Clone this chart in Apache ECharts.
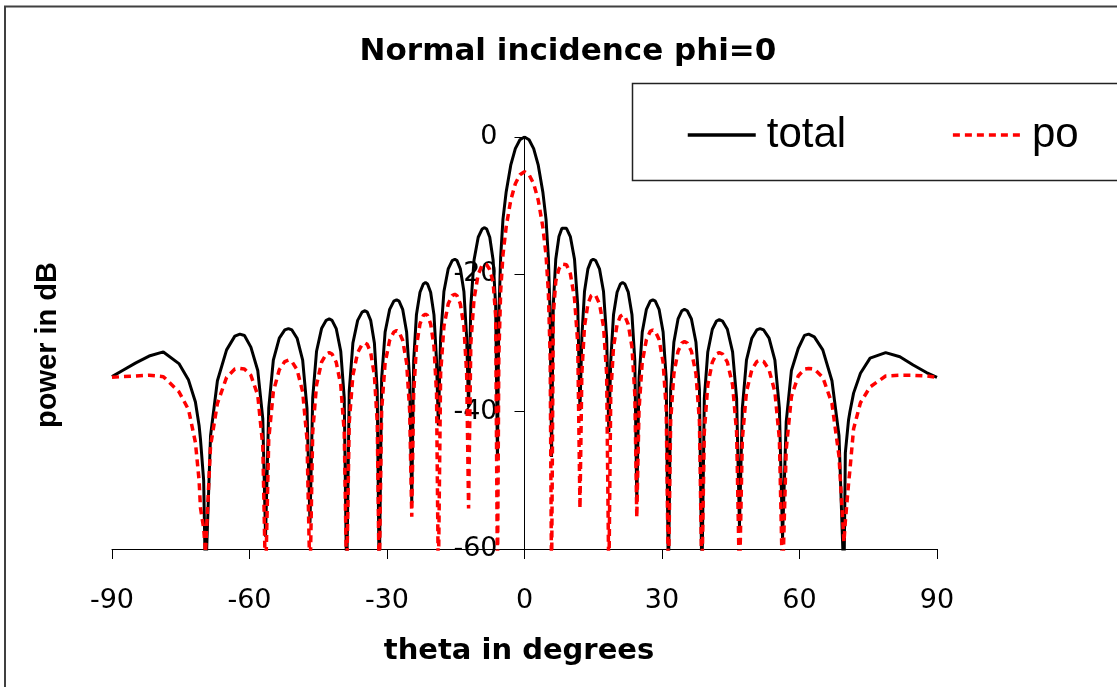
<!DOCTYPE html>
<html>
<head>
<meta charset="utf-8">
<script src="https://cdn.jsdelivr.net/npm/echarts@6/dist/echarts.min.js"></script>
<style>
html,body{margin:0;padding:0;background:#fff;}
#chart{width:1117px;height:687px;}
</style>
</head>
<body>
<div id="chart"></div>
<script>
// theta in degrees (sample positions)
const theta = [
 -90, -87.7, -84.8, -81.9, -78.8, -75.4, -73.3, -71.8, -71.0, -70.7, -70.0,
 -69.6, -68.5, -67.0, -65.0, -63.2, -62.1, -61.1, -59.7, -58.2, -57.1,
 -56.5, -55.8, -54.8, -53.5, -52.3, -51.5, -50.75, -49.62, -48.4, -47.46,
 -46.8, -46.21, -45.37, -44.28, -43.27, -42.6, -41.99, -41.08, -40.09, -39.33,
 -38.8, -38.24, -37.44, -36.4, -35.44, -34.8, -34.3, -33.56, -32.75, -32.13,
 -31.7, -31.17, -30.41, -29.42, -28.51, -27.9, -27.37, -26.58, -25.72, -25.06,
 -24.6, -24.18, -23.58, -22.8, -22.08, -21.6, -21.15, -20.48, -19.75, -19.19,
 -18.8, -18.3, -17.58, -16.64, -15.78, -15.2, -14.72, -14.0, -13.22, -12.62,
 -12.2, -11.71, -11.01, -10.1, -9.26, -8.7, -8.25, -7.58, -6.85, -6.29,
 -5.9, -5.6, -5.2, -4.7, -4, -3, -2, -1, 0, 1, 2, 3, 4, 4.7, 5.2, 5.6,
 5.9, 6.28, 6.82, 7.52, 8.17, 8.6, 9.16, 10.0, 10.91, 11.61,
 12.1, 12.51, 13.09, 13.84, 14.54, 15.0, 15.54, 16.36, 17.24, 17.92,
 18.4, 18.82, 19.42, 20.2, 20.92, 21.4, 21.9, 22.64, 23.45, 24.07,
 24.5, 24.99, 25.69, 26.6, 27.44, 28.0, 28.54, 29.36, 30.24, 30.92,
 31.4, 31.89, 32.59, 33.5, 34.34, 34.9, 35.51, 36.42, 37.41, 38.17,
 38.7, 39.23, 39.99, 40.98, 41.89, 42.5, 43.2, 44.26, 45.4, 46.28,
 46.9, 47.53, 48.43, 49.6, 50.68, 51.4, 52.18, 53.36, 54.63, 55.61,
 56.3, 57.1, 58.24, 59.72, 61.09, 62.0, 63.23, 65.08, 67.08, 68.62,
 69.7, 70.0, 70.7, 71.0, 71.8, 73.3, 75.4, 78.8, 81.9, 84.8, 87.7, 90
];
// total (dB)
const total = [
 -34.9, -34.0, -32.9, -31.9, -31.3, -33.0, -35.4, -38.6, -42.0, -44.0, -50.0,
 -65, -43.5, -35.5, -31.0, -29.0, -28.7, -28.9, -30.6, -34.0, -41.0,
 -58.2, -39.5, -32.5, -29.3, -28.1, -27.9, -28.1, -29.3, -32.5, -39.5,
 -56.2, -38.0, -31.2, -27.9, -26.7, -26.5, -26.7, -27.9, -31.2, -38.0,
 -65, -37.0, -30.0, -26.7, -25.5, -25.3, -25.5, -26.7, -30.0, -37.0,
 -65, -35.2, -28.4, -25.1, -23.9, -23.7, -23.9, -25.1, -28.4, -35.2,
 -53.3, -32.6, -25.9, -22.6, -21.4, -21.2, -21.4, -22.6, -25.9, -32.6,
 -42.0, -29.2, -22.5, -19.2, -18.0, -17.8, -18.0, -19.2, -22.5, -29.2,
 -39.3, -24.6, -17.9, -14.6, -13.4, -13.2, -13.4, -14.6, -17.9, -24.6,
 -47.0, -26.0, -17.5, -12.0, -8.0, -4.1, -1.7, -0.4, 0, -0.4, -1.7, -4.1, -8.0, -12.0, -17.5, -26.0,
 -46.6, -24.5, -17.8, -14.5, -13.3, -13.1, -13.3, -14.5, -17.8, -24.5,
 -39.8, -29.2, -22.5, -19.2, -18.0, -17.8, -18.0, -19.2, -22.5, -29.2,
 -43.0, -32.6, -25.9, -22.6, -21.4, -21.2, -21.4, -22.6, -25.9, -32.6,
 -53.1, -35.2, -28.4, -25.1, -23.9, -23.7, -23.9, -25.1, -28.4, -35.2,
 -65, -36.8, -29.9, -26.5, -25.3, -25.1, -25.3, -26.5, -29.9, -36.8,
 -65, -38.1, -31.3, -28.0, -26.8, -26.6, -26.8, -28.0, -31.3, -38.1,
 -56.7, -39.5, -32.5, -29.3, -28.1, -27.9, -28.1, -29.3, -32.5, -39.5,
 -58.4, -41.5, -34.0, -30.8, -28.9, -28.7, -29.1, -31.0, -35.5, -43.5,
 -65, -46.0, -41.2, -40.0, -37.3, -34.4, -32.2, -31.4, -32.0, -33.2, -34.3, -35.0
];
// po (dB)
const po = [
 -35.0, -34.9, -34.8, -34.7, -34.9, -37.1, -39.7, -44.5, -50.0, -54.0, -57.0,
 -60.5, -45.0, -38.8, -35.0, -33.8, -33.7, -33.8, -34.7, -37.6, -45.0,
 -65, -44.0, -37.1, -33.9, -32.7, -32.5, -32.7, -33.9, -37.1, -44.0,
 -65, -43.0, -36.1, -32.8, -31.6, -31.4, -31.6, -32.8, -36.1, -43.0,
 -65, -41.6, -34.7, -31.4, -30.2, -30.0, -30.2, -31.4, -34.7, -41.6,
 -65, -39.8, -32.9, -29.6, -28.4, -28.2, -28.4, -29.6, -32.9, -39.8,
 -55.3, -37.4, -30.5, -27.2, -26.0, -25.8, -26.0, -27.2, -30.5, -37.4,
 -65, -34.5, -27.6, -24.3, -23.1, -22.9, -23.1, -24.3, -27.6, -34.5,
 -54.1, -30.1, -23.6, -20.0, -18.7, -18.5, -18.6, -19.3, -21.1, -26.1,
 -65, -32.0, -22.5, -17.2, -13.1, -9.2, -6.8, -5.5, -5.05, -5.5, -6.8, -9.2, -13.1, -17.2, -22.5, -32.0,
 -65, -26.0, -21.0, -19.2, -18.5, -18.4, -18.6, -19.9, -23.5, -30.0,
 -54.1, -34.5, -27.6, -24.3, -23.1, -22.9, -23.1, -24.3, -27.6, -34.5,
 -65, -37.5, -30.6, -27.3, -26.1, -25.9, -26.1, -27.3, -30.6, -37.5,
 -55.4, -39.7, -32.8, -29.5, -28.3, -28.1, -28.3, -29.5, -32.8, -39.7,
 -65, -41.4, -34.5, -31.2, -30.0, -29.8, -30.0, -31.2, -34.5, -41.4,
 -65, -43.0, -36.1, -32.8, -31.6, -31.4, -31.6, -32.8, -36.1, -43.0,
 -65, -44.0, -37.1, -33.9, -32.7, -32.5, -32.7, -33.9, -37.1, -44.0,
 -65, -45.5, -37.8, -34.8, -33.8, -33.7, -33.8, -35.0, -38.8, -46.5,
 -59, -56.0, -50.5, -48.5, -42.5, -38.7, -36.4, -34.8, -34.7, -34.7, -34.8, -35.0
];
const seriesNames = ['total', 'po'];
const xTicks = [-90, -60, -30, 0, 30, 60, 90];
const yTicks = [-60, -40, -20, 0];
const titleText = 'Normal incidence phi=0';
const xName = 'theta in degrees';
const yName = 'power in dB';

const chart = echarts.init(document.getElementById('chart'), null, {renderer: 'canvas'});
const pairs = (ys) => theta.map((t, i) => [t, ys[i]]);
const gridLeft = 112, gridRight = 180;
const plotW = 1117 - gridLeft - gridRight;

chart.setOption({
  animation: false,
  backgroundColor: '#fff',
  grid: {left: gridLeft, right: gridRight, top: 137, bottom: 138, containLabel: false},
  legend: {
    left: 686, top: 114, padding: 0,
    itemWidth: 68, itemHeight: 14, itemGap: 105,
    data: seriesNames,
    itemStyle: {opacity: 0},
    lineStyle: {width: 3.5},
    textStyle: {fontFamily: 'Liberation Sans, Arial, sans-serif', fontSize: 42, color: '#000', padding: [0, 0, 0, 6]}
  },
  xAxis: {
    type: 'value', min: xTicks[0], max: xTicks[xTicks.length - 1], interval: 30,
    axisLine: {onZero: false, lineStyle: {color: '#000', width: 1}},
    axisTick: {show: true, inside: false, length: 10, lineStyle: {color: '#000'}},
    splitLine: {show: false},
    axisLabel: {fontFamily: 'DejaVu Sans', fontSize: 27, color: '#000', margin: 38}
  },
  yAxis: {
    type: 'value', min: yTicks[0], max: yTicks[yTicks.length - 1], interval: 20,
    position: 'left',
    offset: -plotW / 2,
    axisLine: {show: true, onZero: false, lineStyle: {color: '#000', width: 1}},
    axisTick: {show: true, inside: false, length: 10, lineStyle: {color: '#000'}},
    splitLine: {show: false},
    axisLabel: {fontFamily: 'DejaVu Sans', fontSize: 27, color: '#000', margin: 27}
  },
  graphic: [
    {type: 'rect', silent: true, z: -10, shape: {x: 5, y: 6.5, width: 1300, height: 900},
     style: {fill: 'none', stroke: '#404040', lineWidth: 2}},
    {type: 'rect', silent: true, z: -5, shape: {x: 632.5, y: 83.5, width: 600, height: 97},
     style: {fill: '#fff', stroke: '#222', lineWidth: 1.5}},
    {type: 'text', silent: true, x: 568, y: 52,
     style: {text: titleText, font: 'bold 31px "DejaVu Sans"', fill: '#000', textAlign: 'center', textVerticalAlign: 'middle'}},
    {type: 'text', silent: true, x: 519, y: 651,
     style: {text: xName, font: 'bold 29px "DejaVu Sans"', fill: '#000', textAlign: 'center', textVerticalAlign: 'middle'}},
    {type: 'text', silent: true, x: 48, y: 345, rotation: Math.PI / 2,
     style: {text: yName, font: 'bold 29px "Liberation Sans"', fill: '#000', textAlign: 'center', textVerticalAlign: 'middle'}}
  ],
  series: [
    {name: seriesNames[0], type: 'line', data: pairs(total), symbol: 'none', showSymbol: false, clip: true,
     lineStyle: {color: '#000', width: 3}, itemStyle: {color: '#000'}, z: 2},
    {name: seriesNames[1], type: 'line', data: pairs(po), symbol: 'none', showSymbol: false, clip: true,
     lineStyle: {color: '#ff0000', width: 3.5, type: [7, 5]}, itemStyle: {color: '#ff0000'}, z: 3}
  ]
});
</script>
</body>
</html>
